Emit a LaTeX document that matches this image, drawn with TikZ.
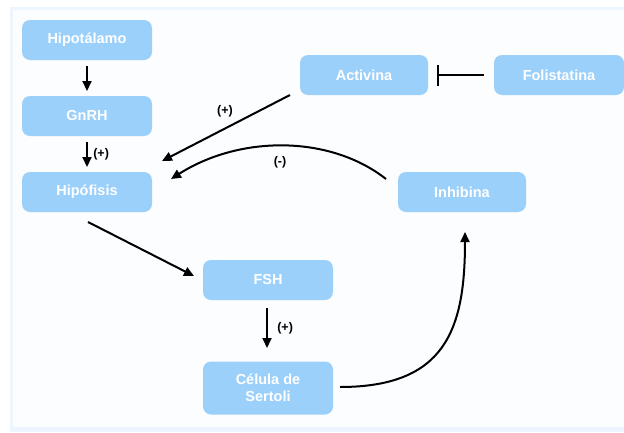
\documentclass[tikz,border=0pt]{standalone}
\usepackage{fontspec}
\setmainfont{Liberation Sans}
\usetikzlibrary{arrows.meta}
\definecolor{boxblue}{HTML}{9BD0FB}
\definecolor{frameblue}{HTML}{EDF6FF}
\definecolor{panel}{HTML}{FCFDFE}
\begin{document}
\begin{tikzpicture}[x=1pt,y=-1pt,
  box/.style={fill=boxblue, rounded corners=8pt, minimum width=130pt, minimum height=40pt,
    text=white, font=\fontsize{14.5}{17}\selectfont\bfseries, align=center, inner sep=2pt},
  arr/.style={line width=2pt, -{Triangle[length=10pt,width=9pt]}},
  lbl/.style={font=\fontsize{12.5}{14}\selectfont\bfseries, text=black}]
\useasboundingbox (0,0) rectangle (624,432);
\fill[white] (0,0) rectangle (624,432);
\fill[frameblue] (10,7) rectangle (624,432);
\fill[panel] (13,10) rectangle (624,427);
\node[box] (hipot) at (87,40) {Hipotálamo};
\node[box] (gnrh) at (87,116) {GnRH};
\node[box] (hipof) at (87,192) {Hipófisis};
\node[box, minimum width=128pt] (activ) at (364,75) {Activina};
\node[box] (folis) at (559,75) {Folistatina};
\node[box, minimum width=128pt] (inhib) at (462,192) {Inhibina};
\node[box] (fsh) at (268,280) {FSH};
\node[box, minimum height=53pt] (cel) at (268,388) {Célula de\\Sertoli};
% connector end points
\coordinate (a1) at (87,66);  \coordinate (a2) at (87,91);
\coordinate (b1) at (87,142); \coordinate (b2) at (87,167);
\coordinate (c1) at (290,95); \coordinate (c2) at (162,161);
\coordinate (d1) at (386,179); \coordinate (d2) at (171,179);
\coordinate (e1) at (88,222); \coordinate (e2) at (194,276);
\coordinate (f1) at (267,308); \coordinate (f2) at (267,348);
\coordinate (g1) at (340,387); \coordinate (g2) at (465,232);
\coordinate (h1) at (484,75); \coordinate (h2) at (437,75);
\draw[arr] (a1) -- (a2);
\draw[arr] (b1) -- node[lbl, right=2pt] {(+)} (b2);
\draw[arr] (c1) -- (c2);
\node[lbl] (plus2) at (225,111) {(+)};
\draw[arr] (d1) .. controls (330,135) and (240,135) .. (d2);
\node[lbl] (minus) at (280,162) {(-)};
\draw[arr] (e1) -- (e2);
\draw[arr] (f1) -- node[lbl, right=6pt] {(+)} (f2);
\draw[arr] (g1) .. controls (445,387) and (465,330) .. (g2);
\draw[line width=2pt, -{Bar[width=21pt,line width=2.4pt]}] (h1) -- (h2);
\end{tikzpicture}
\end{document}
